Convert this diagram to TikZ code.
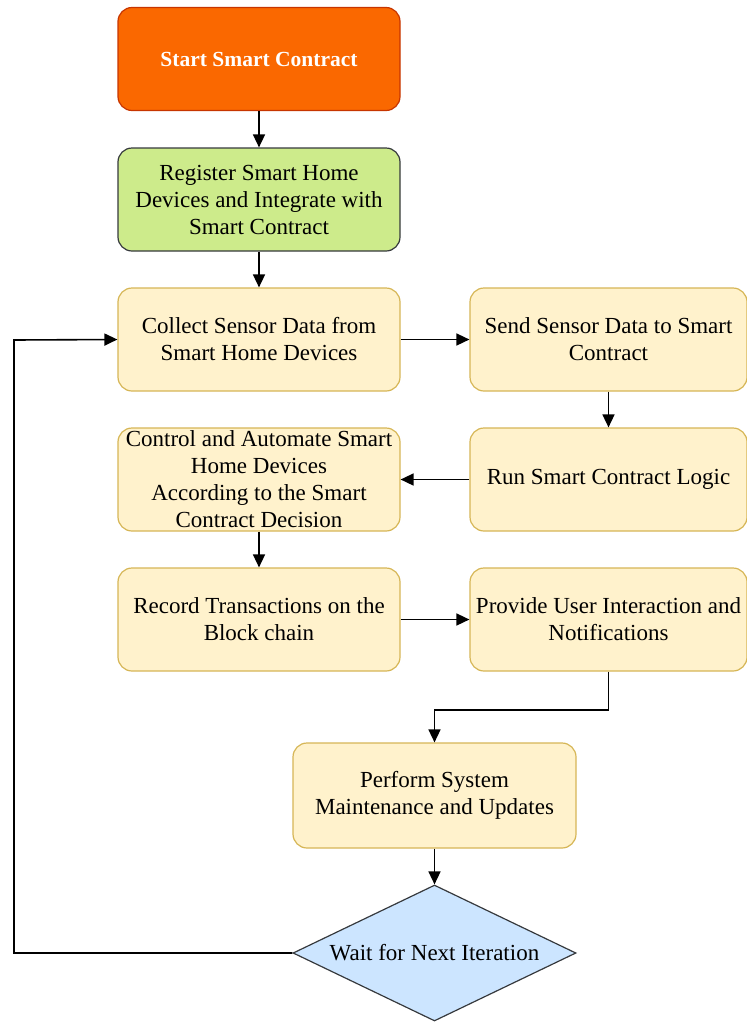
\documentclass[tikz,border=0pt]{standalone}
\usepackage{fontspec}
\setmainfont{Liberation Serif}
\usetikzlibrary{shapes.geometric,arrows.meta}
\definecolor{startfill}{HTML}{FA6800}
\definecolor{startline}{HTML}{C73500}
\definecolor{regfill}{HTML}{CDEB8B}
\definecolor{darkline}{HTML}{36393D}
\definecolor{stepfill}{HTML}{FFF2CC}
\definecolor{stepline}{HTML}{D6B656}
\definecolor{waitfill}{HTML}{CCE5FF}
\tikzset{
  box/.style={rectangle, rounded corners=14pt, minimum width=282pt, minimum height=103pt,
    align=center, line width=1.2pt, font=\fontsize{23}{27}\selectfont, inner sep=1pt},
  startbox/.style={box, fill=startfill, draw=startline, text=white, font=\fontsize{21.5}{27}\selectfont\bfseries},
  regbox/.style={box, fill=regfill, draw=darkline},
  stepbox/.style={box, fill=stepfill, draw=stepline},
  waitbox/.style={diamond, aspect=2.08, fill=waitfill, draw=darkline, line width=1.2pt,
    minimum width=283pt, minimum height=136pt, inner sep=0pt, font=\fontsize{23}{27}\selectfont},
  flow/.style={-{Triangle[length=13pt,width=12pt]}, line width=1.6pt, black}
}
\begin{document}
\begin{tikzpicture}[x=1pt,y=-1pt]
  \useasboundingbox (0,0) rectangle (747,1023);
  \node[startbox] (start) at (259,59) {Start Smart Contract};
  \node[regbox] (reg) at (259,199.5) {Register Smart Home\\Devices and Integrate with\\Smart Contract};
  \node[stepbox] (collect) at (259,339.5) {Collect Sensor Data from\\Smart Home Devices};
  \node[stepbox, minimum width=277pt] (send) at (608.5,339.5) {Send Sensor Data to Smart\\Contract};
  \node[stepbox, minimum width=277pt] (run) at (608.5,479.5) {Run Smart Contract Logic};
  \node[stepbox] (control) at (259,479.5) {Control and Automate Smart\\Home Devices\\According to the Smart\\Contract Decision};
  \node[stepbox] (record) at (259,619.5) {Record Transactions on the\\Block chain};
  \node[stepbox, minimum width=277pt] (provide) at (608.5,619.5) {Provide User Interaction and\\Notifications};
  \node[stepbox, minimum width=283pt, minimum height=105pt] (perform) at (434.5,795.5) {Perform System\\Maintenance and Updates};
  \node[waitbox] (wait) at (434.5,953) {Wait for Next Iteration};
  \coordinate (bendA) at (14,953);
  \coordinate (bendB) at (14,340);

  \draw[flow] (start) -- (reg);
  \draw[flow] (reg) -- (collect);
  \draw[flow] (collect) -- (send);
  \draw[flow] (send) -- (run);
  \draw[flow] (run) -- (control);
  \draw[flow] (control) -- (record);
  \draw[flow] (record) -- (provide);
  \draw[flow] (provide.south) |- (608.5,710) -| (perform.north);
  \draw[flow] (perform) -- (wait);
  \draw[flow] (wait.west) -- (bendA) -- (bendB) -- (collect.west);
\end{tikzpicture}
\end{document}
